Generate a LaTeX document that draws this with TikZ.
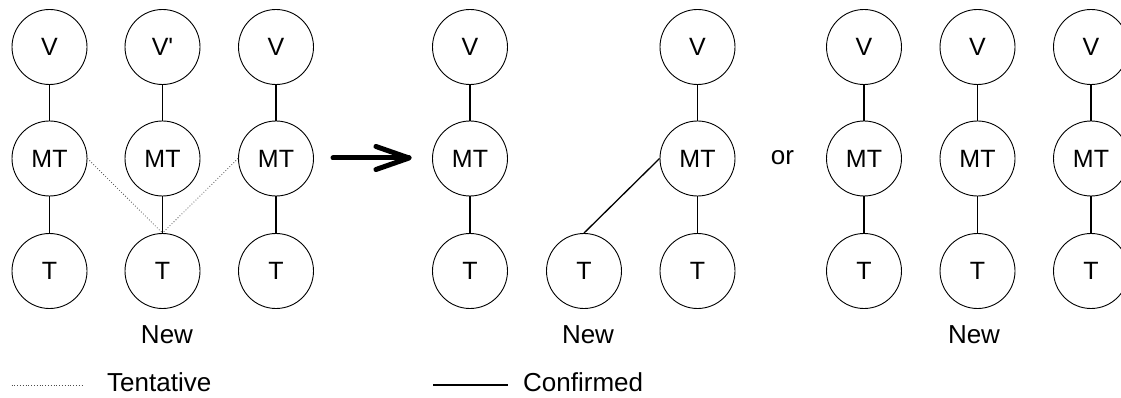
\documentclass[tikz,border=0pt]{standalone}
\usepackage{fontspec}
\setmainfont{Liberation Sans}
\newfontfamily\nodefont{Liberation Sans}
\begin{document}
\begin{tikzpicture}[x=1pt,y=-1pt,
  lbl/.style={font=\nodefont\fontsize{26}{30}\selectfont, inner sep=0pt},
  nd/.style={circle,draw,line width=0.9pt,minimum size=75pt,inner sep=0pt,font=\nodefont\fontsize{25}{29}\selectfont},
  conn/.style={line width=1.3pt},
  tent/.style={dotted,line width=0.8pt,black!70},
  bigarrow/.style={line width=5pt,line cap=round,line join=round}]
\useasboundingbox (0,0) rectangle (1121,398);
\clip (0,0) rectangle (1121,398);
% group 1
\node[nd] (a1v) at (49.5,47) {V};
\node[nd] (a1m) at (49.5,158.5) {MT};
\node[nd] (a1t) at (49.5,271) {T};
\node[nd] (a2v) at (162.5,47) {V'};
\node[nd] (a2m) at (162.5,158.5) {MT};
\node[nd] (a2t) at (162.5,271) {T};
\node[nd] (a3v) at (276,47) {V};
\node[nd] (a3m) at (276,158.5) {MT};
\node[nd] (a3t) at (276,271) {T};
\draw[conn] (a1v) -- (a1m) (a1m) -- (a1t);
\draw[conn] (a2v) -- (a2m) (a2m) -- (a2t);
\draw[conn] (a3v) -- (a3m) (a3m) -- (a3t);
\draw[tent] (a1m.east) -- (a2t.north);
\draw[tent] (a3m.west) -- (a2t.north);
\node[lbl] (new1) at (167,335) {New};
% arrow
\coordinate (arS) at (333,158);
\coordinate (arE) at (409,158);
\coordinate (arU) at (376,146.5);
\coordinate (arD) at (376,169.5);
\draw[bigarrow] (arS) -- (arE);
\draw[bigarrow] (arU) -- (arE) -- (arD);
% group 2
\node[nd] (b1v) at (470,47) {V};
\node[nd] (b1m) at (470,158.5) {MT};
\node[nd] (b1t) at (470,271) {T};
\node[nd] (bt) at (584,271) {T};
\node[nd] (b2v) at (697.5,47) {V};
\node[nd] (b2m) at (697.5,158.5) {MT};
\node[nd] (b2t) at (697.5,271) {T};
\draw[conn] (b1v) -- (b1m) (b1m) -- (b1t);
\draw[conn] (b2v) -- (b2m) (b2m) -- (b2t);
\draw[conn] (b2m.west) -- (bt.north);
\node[lbl] (new2) at (588,335) {New};
% or
\node[lbl] (or) at (782.5,158) {or};
% group 3
\node[nd] (c1v) at (864,47) {V};
\node[nd] (c1m) at (864,158.5) {MT};
\node[nd] (c1t) at (864,271) {T};
\node[nd] (c2v) at (977.5,47) {V};
\node[nd] (c2m) at (977.5,158.5) {MT};
\node[nd] (c2t) at (977.5,271) {T};
\node[nd] (c3v) at (1091,47) {V};
\node[nd] (c3m) at (1091,158.5) {MT};
\node[nd] (c3t) at (1091,271) {T};
\draw[conn] (c1v) -- (c1m) (c1m) -- (c1t);
\draw[conn] (c2v) -- (c2m) (c2m) -- (c2t);
\draw[conn] (c3v) -- (c3m) (c3m) -- (c3t);
\node[lbl] (new3) at (974,335) {New};
% legend
\coordinate (lt1) at (11.5,385);
\coordinate (lt2) at (83,385);
\draw[tent] (lt1) -- (lt2);
\node[lbl,anchor=west] (tentative) at (107,382.5) {Tentative};
\coordinate (lc1) at (433,385);
\coordinate (lc2) at (508,385);
\draw[conn] (lc1) -- (lc2);
\node[lbl,anchor=west] (confirmed) at (523,382.5) {Confirmed};
\end{tikzpicture}
\end{document}
